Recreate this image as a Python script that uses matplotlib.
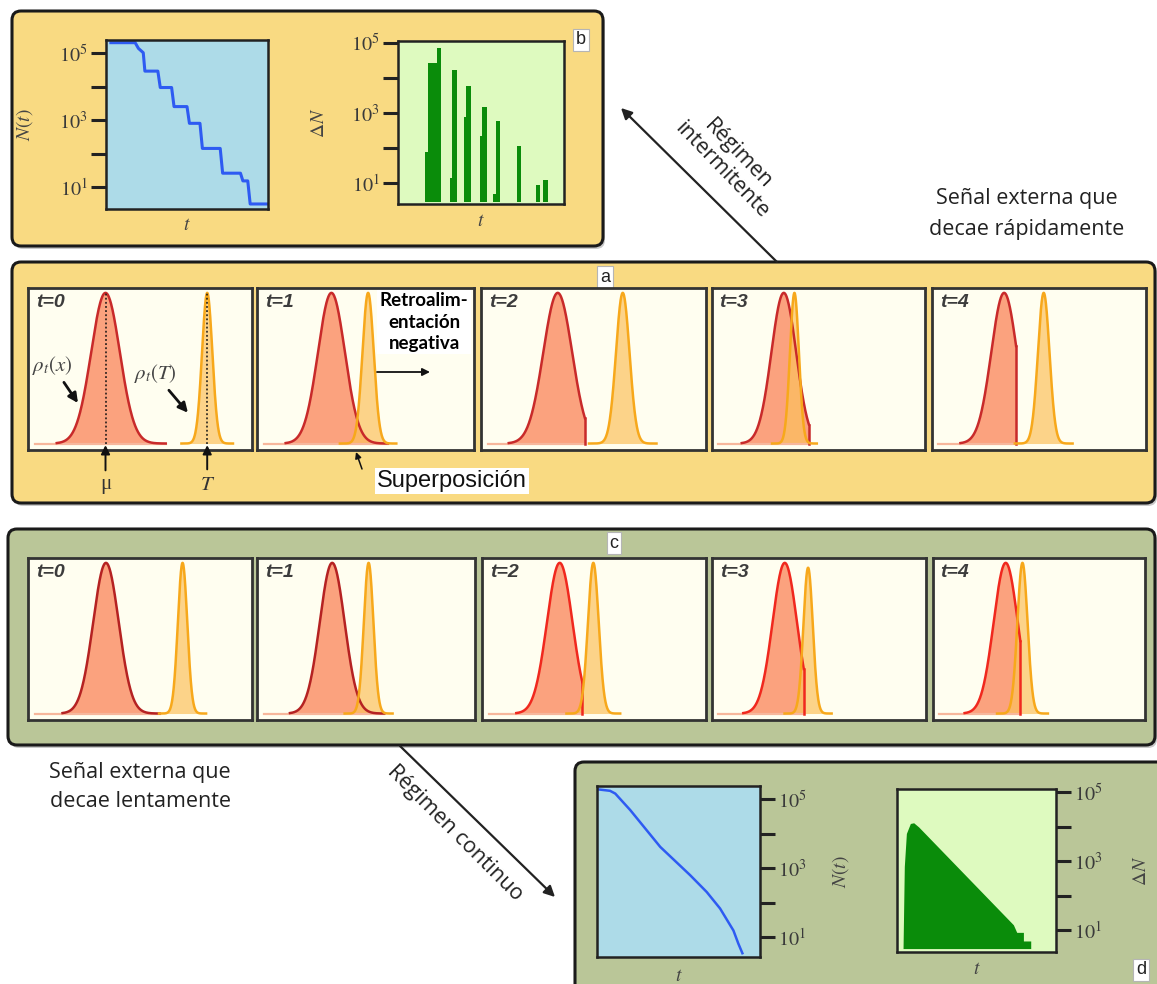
import numpy as np
import matplotlib
matplotlib.use("Agg")
import matplotlib.pyplot as plt
from matplotlib.patches import FancyBboxPatch

plt.rcParams["font.family"] = ["Open Sans", "DejaVu Sans"]
plt.rcParams["mathtext.fontset"] = "stix"

W, H = 1157, 984

# ---------------- data ----------------
# panel b: intermittent regime (t rescaled to 0..1, values as log10)
t_b = [0.03, 0.18, 0.20, 0.23, 0.24, 0.32, 0.335, 0.405, 0.42, 0.50, 0.515,
       0.58, 0.595, 0.705, 0.72, 0.83, 0.845, 0.875, 0.89, 1.0]
logN_b = [5.32, 5.32, 5.15, 5.02, 4.47, 4.47, 3.98, 3.98, 3.41, 3.41, 2.91,
          2.91, 2.16, 2.16, 1.42, 1.42, 1.19, 1.19, 0.50, 0.50]

dn_left_b = [0.164, 0.178, 0.234, 0.314, 0.328, 0.398, 0.412, 0.494, 0.506,
             0.574, 0.590, 0.714, 0.834, 0.874]
dn_right_b = [0.178, 0.234, 0.262, 0.328, 0.354, 0.412, 0.438, 0.506, 0.534,
              0.590, 0.616, 0.740, 0.858, 0.904]
logdN_b = [1.89, 4.43, 4.86, 1.14, 4.23, 2.88, 3.78, 2.34, 3.18,
           0.69, 2.78, 2.05, 0.95, 1.08]

# panel d: continuous regime
t_d = [0.01, 0.08, 0.112, 0.204, 0.388, 0.571, 0.673, 0.755, 0.837, 0.867, 0.892]
logN_d = [5.29, 5.25, 5.17, 4.69, 3.62, 2.80, 2.31, 1.83, 1.19, 0.81, 0.53]

t_dn_d = [0.038, 0.046, 0.059, 0.084, 0.105, 0.136, 0.732, 0.753, 0.795, 0.795,
          0.841, 0.841]
logdN_d = [0.47, 2.85, 3.81, 4.10, 4.12, 4.00, 1.16, 0.94, 0.94, 0.69, 0.69, 0.47]

# panels a and c: rho_t(x) (red) and rho_t(T) (orange), x in panel units 0..1
steps = ["t=0", "t=1", "t=2", "t=3", "t=4"]

mu_x_a = [0.346, 0.343, 0.341, 0.337, 0.337]
sig_x_a = [0.064, 0.062, 0.064, 0.058, 0.060]
cut_a = [None, None, 0.462, 0.455, 0.393]
mu_T_a = [0.800, 0.512, 0.630, 0.387, 0.522]
sig_T_a = [0.023, 0.026, 0.030, 0.021, 0.027]
h_T_a = [0.93, 0.93, 0.93, 0.93, 0.93]

mu_x_c = [0.348, 0.345, 0.347, 0.340, 0.343]
sig_x_c = [0.057, 0.057, 0.057, 0.057, 0.057]
cut_c = [None, None, 0.448, 0.429, 0.412]
mu_T_c = [0.690, 0.512, 0.497, 0.449, 0.422]
sig_T_c = [0.021, 0.022, 0.024, 0.022, 0.024]
h_T_c = [0.93, 0.93, 0.93, 0.90, 0.93]

# ---------------- layout (pixels) ----------------
YELLOW = "#F9DA82"
OLIVE = "#BAC698"
BLUE_BG = "#ADDBE8"
GREEN_BG = "#DEFABF"
CREAM = "#FFFEF0"
GREEN = "#0A8C0A"
BLUE = "#2E5BF2"

a_cols = [(28, 252), (257, 474), (481, 706), (712, 925), (932, 1146)]
c_cols = [(28, 252), (257, 475), (482, 706), (712, 926), (933, 1145)]
red_edge_a = ["#C82A2A"] * 5
red_edge_c = ["#B52222", "#B52222", "#F0281E", "#F0281E", "#F0281E"]


def rect(x0, y0, x1, y1):
    return [x0 / W, 1 - y1 / H, (x1 - x0) / W, (y1 - y0) / H]


fig = plt.figure(figsize=(W / 100, H / 100), dpi=100)
fig.patch.set_facecolor("white")

bg = fig.add_axes([0, 0, 1, 1], zorder=-5)
bg.set_xlim(0, W)
bg.set_ylim(H, 0)
bg.axis("off")

ov = fig.add_axes([0, 0, 1, 1], zorder=20)
ov.set_xlim(0, W)
ov.set_ylim(H, 0)
ov.axis("off")


def panel_box(x0, y0, x1, y1, color):
    sh = FancyBboxPatch((x0 + 2, y0 + 3), x1 - x0, y1 - y0,
                        boxstyle="round,pad=0,rounding_size=9",
                        fc="#8a8a8a", ec="none", alpha=0.45)
    bx = FancyBboxPatch((x0, y0), x1 - x0, y1 - y0,
                        boxstyle="round,pad=0,rounding_size=9",
                        fc=color, ec="#1a1a1a", lw=2.2)
    bg.add_patch(sh)
    bg.add_patch(bx)


def tag(x, y, s):
    bg.text(x, y, s, ha="center", va="center", fontsize=13, color="#222",
            family=["Liberation Sans", "DejaVu Sans"],
            bbox=dict(boxstyle="square,pad=0.15", fc="white", ec="#b5b5b5", lw=0.8))


panel_box(12, 11, 603, 246, YELLOW)
panel_box(12, 262, 1155, 503, YELLOW)
panel_box(8, 529, 1155, 745, OLIVE)
panel_box(575, 762, 1175, 1005, OLIVE)

tag(581, 40, "b")
tag(605, 277, "a")
tag(614, 543, "c")
tag(1141, 970, "d")


def log_panel(px, face, lo, hi, side, ylab, ylab_x, xlab_y):
    ax = fig.add_axes(rect(*px))
    ax.set_facecolor(face)
    ax.set_yscale("log")
    ax.set_xlim(0, 1)
    ax.set_ylim(10 ** lo, 10 ** hi)
    ax.set_xticks([])
    ax.set_yticks([1e1, 1e2, 1e3, 1e4, 1e5])
    ax.set_yticklabels(["$10^{1}$", "", "$10^{3}$", "", "$10^{5}$"])
    ax.minorticks_off()
    ax.tick_params(axis="y", which="major", direction="out", length=11, width=2.2,
                   color="#222", labelcolor="#3a3a3a", labelsize=14.5, pad=2)
    if side == "right":
        ax.yaxis.tick_right()
        ax.yaxis.set_label_position("right")
    for s in ax.spines.values():
        s.set_linewidth(1.8)
        s.set_color("#222")
    ax.set_ylabel(ylab, fontsize=14, color="#444")
    ax.yaxis.set_label_coords(ylab_x, 0.5)
    ax.set_xlabel("$t$", fontsize=14, color="#444")
    ax.xaxis.set_label_coords(0.5, xlab_y)
    return ax


# panel b
axN = log_panel((106, 40, 268, 209), BLUE_BG, 0.35, 5.4, "left", "$N(t)$", -0.44, -0.04)
axN.plot(t_b, 10 ** np.array(logN_b), color=BLUE, lw=2.2)

axD = log_panel((398, 41, 564, 204), GREEN_BG, 0.40, 5.06, "left", r"$\Delta N$", -0.42, -0.05)
floor_b = 10 ** 0.45
axD.bar(dn_left_b, 10 ** np.array(logdN_b) - floor_b,
        width=np.array(dn_right_b) - np.array(dn_left_b),
        bottom=floor_b, align="edge", color=GREEN, lw=0)

# panel d
axN2 = log_panel((597, 786, 760, 957), BLUE_BG, 0.42, 5.39, "right", "$N(t)$", 1.43, -0.06)
axN2.plot(t_d, 10 ** np.array(logN_d), color=BLUE, lw=1.8)

axD2 = log_panel((897, 789, 1056, 952), GREEN_BG, 0.37, 5.10, "right", r"$\Delta N$", 1.48, -0.05)
axD2.fill_between(t_dn_d, 10 ** 0.47, 10 ** np.array(logdN_d), color=GREEN, lw=0)


# distribution panels
def dist_panel(px, label, mx, sx, cut, mT, sT, hT, red_edge):
    ax = fig.add_axes(rect(*px))
    ax.set_facecolor(CREAM)
    ax.set_xlim(0, 1)
    ax.set_ylim(0, 1)
    ax.set_xticks([])
    ax.set_yticks([])
    for s in ax.spines.values():
        s.set_linewidth(2)
        s.set_color("#333")
    base, top = 0.04, 0.93
    x_end = cut if cut is not None else mx + 4.2 * sx
    ax.plot([0.03, x_end], [base, base], color="#F7B79C", lw=1.6)
    x = np.linspace(mx - 3.4 * sx, x_end, 300)
    y = base + top * np.exp(-0.5 * ((x - mx) / sx) ** 2)
    xT = np.linspace(mT - 5 * sT, mT + 5 * sT, 300)
    yT = base + hT * np.exp(-0.5 * ((xT - mT) / sT) ** 2)
    ax.fill_between(x, base, y, color="#FA8B62", alpha=0.8, lw=0)
    ax.fill_between(xT, base, yT, color="#FCC15E", alpha=0.7, lw=0)
    ax.plot(x, y, color=red_edge, lw=1.8)
    if cut is not None:
        ax.plot([x_end, x_end], [base, y[-1]], color=red_edge, lw=1.8)
    ax.plot(xT, yT, color="#F7A81B", lw=1.8)
    ax.text(0.036, 0.96, label, transform=ax.transAxes, ha="left", va="top",
            fontsize=14, fontweight="bold", style="italic", color="#3c3c3c",
            family=["Liberation Sans", "DejaVu Sans"])
    return ax


axes_a = []
for i in range(5):
    axes_a.append(dist_panel((a_cols[i][0], 288, a_cols[i][1], 450), steps[i],
                             mu_x_a[i], sig_x_a[i], cut_a[i], mu_T_a[i], sig_T_a[i],
                             h_T_a[i], red_edge_a[i]))
for i in range(5):
    dist_panel((c_cols[i][0], 558, c_cols[i][1], 720), steps[i],
               mu_x_c[i], sig_x_c[i], cut_c[i], mu_T_c[i], sig_T_c[i],
               h_T_c[i], red_edge_c[i])

# annotations on a, t=0
a0 = axes_a[0]
a0.plot([mu_x_a[0]] * 2, [0.04, 0.97], ls=(0, (1.2, 1.5)), color="#111", lw=1.1)
a0.plot([mu_T_a[0]] * 2, [0.04, 0.97], ls=(0, (1.2, 1.5)), color="#111", lw=1.1)
arr = dict(arrowstyle="-|>", color="#111", lw=1.4, mutation_scale=13, shrinkA=1, shrinkB=0)
a0.annotate("μ", xy=(mu_x_a[0], 0.03), xytext=(mu_x_a[0], -0.21), ha="center", va="center",
            fontsize=15, color="#333", family=["Liberation Serif", "DejaVu Serif"],
            arrowprops=arr, annotation_clip=False)
a0.annotate("$T$", xy=(mu_T_a[0], 0.03), xytext=(mu_T_a[0], -0.21), ha="center", va="center",
            fontsize=15, color="#333", arrowprops=arr, annotation_clip=False)
arr2 = dict(arrowstyle="-|>", color="#111", lw=2, mutation_scale=14, shrinkA=2, shrinkB=0)
a0.annotate(r"$\rho_t(x)$", xy=(0.223, 0.29), xytext=(0.11, 0.52), ha="center", va="center",
            fontsize=15, color="#444", arrowprops=arr2)
a0.annotate(r"$\rho_t(T)$", xy=(0.714, 0.23), xytext=(0.567, 0.47), ha="center", va="center",
            fontsize=15, color="#444", arrowprops=arr2)

# overlay texts and arrows
ov.text(424, 322, "Retroalim-\nentación\nnegativa", ha="center", va="center",
        fontsize=13.5, fontweight="bold", family=["Lato", "DejaVu Sans"], color="black",
        linespacing=1.3,
        bbox=dict(boxstyle="square,pad=0.12", fc="white", ec="none"))
ov.annotate("", xy=(430, 372), xytext=(377, 372),
            arrowprops=dict(arrowstyle="-|>", color="#111", lw=1.3, mutation_scale=11,
                            shrinkA=0, shrinkB=0))
ov.text(452, 481, "Superposición", ha="center", va="center", fontsize=17,
        family=["Liberation Sans", "DejaVu Sans"], color="#111",
        bbox=dict(boxstyle="square,pad=0.1", fc="white", ec="none"))
ov.annotate("", xy=(356, 452), xytext=(362, 469),
            arrowprops=dict(arrowstyle="-|>", color="#111", lw=1.1, mutation_scale=9,
                            shrinkA=0, shrinkB=0))

ov.text(1027, 214, "Señal externa que\ndecae rápidamente", ha="center", va="center",
        fontsize=15.5, color="#222", linespacing=1.6)
ov.text(140, 787, "Señal externa que\ndecae lentamente", ha="center", va="center",
        fontsize=15.5, color="#222", linespacing=1.55)

ov.annotate("", xy=(621, 108), xytext=(777, 262),
            arrowprops=dict(arrowstyle="-|>", color="#222", lw=1.6, mutation_scale=16,
                            shrinkA=0, shrinkB=0))
ov.text(730, 162, "Régimen\nintermitente", ha="center", va="center", rotation=-46,
        rotation_mode="anchor", fontsize=15.5, color="#222", linespacing=1.1)

ov.annotate("", xy=(555, 897), xytext=(400, 746),
            arrowprops=dict(arrowstyle="-|>", color="#222", lw=1.6, mutation_scale=16,
                            shrinkA=0, shrinkB=0))
ov.text(455, 833, "Régimen continuo", ha="center", va="center", rotation=-45,
        rotation_mode="anchor", fontsize=15.5, color="#222")

fig.savefig("out.png", dpi=100)
